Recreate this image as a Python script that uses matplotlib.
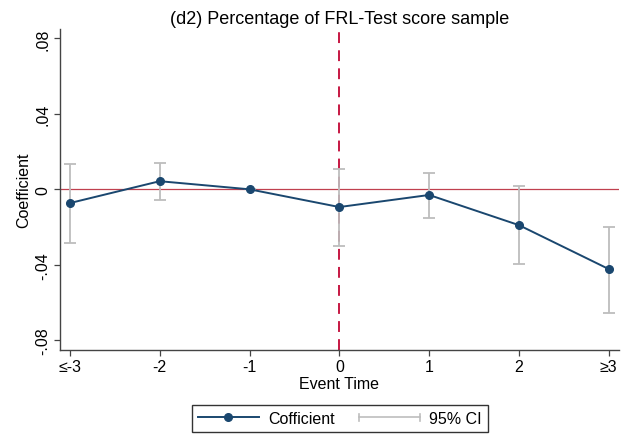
import matplotlib
matplotlib.use("Agg")
from matplotlib import pyplot as plt
from matplotlib.lines import Line2D
from matplotlib.legend_handler import HandlerBase

plt.rcParams['font.family'] = ['Liberation Sans', 'DejaVu Sans']

# event-study estimates
event_labels = ['≤-3', '-2', '-1', '0', '1', '2', '≥3']
event_time = [-3, -2, -1, 0, 1, 2, 3]
coef = [-0.0073, 0.0043, 0.0, -0.0094, -0.0030, -0.0190, -0.0423]
ci_low = [-0.0283, -0.0058, 0.0, -0.0299, -0.0150, -0.0397, -0.0654]
ci_high = [0.0134, 0.0142, 0.0, 0.0108, 0.0087, 0.0018, -0.0198]

yticks = [-0.08, -0.04, 0, 0.04, 0.08]
ytick_labels = ['-.08', '-.04', '0', '.04', '.08']

navy = '#1a476f'
gray = '#bdbdbd'


class CapLineHandler(HandlerBase):
    # horizontal range bar with end caps for the CI legend entry
    def create_artists(self, legend, orig_handle, xdescent, ydescent,
                       width, height, fontsize, trans):
        y = height / 2 - ydescent
        x0, x1 = -xdescent, width - xdescent
        h = height * 0.3
        arts = [Line2D([x0, x1], [y, y], color=gray, lw=1.2),
                Line2D([x0, x0], [y - h, y + h], color=gray, lw=1.2),
                Line2D([x1, x1], [y - h, y + h], color=gray, lw=1.2)]
        for a in arts:
            a.set_transform(trans)
        return arts


fig = plt.figure(figsize=(6.27, 4.35), dpi=100)
ax = fig.add_axes([0.0957, 0.194, 0.891, 0.737])

yerr = [[c - lo for c, lo in zip(coef, ci_low)],
        [hi - c for c, hi in zip(coef, ci_high)]]
ax.errorbar(event_time, coef, yerr=yerr, fmt='none', ecolor=gray,
            elinewidth=1.3, capsize=4, capthick=1.3, zorder=2)
ax.axhline(0, color='#c0404f', lw=0.9, zorder=1)
ax.axvline(0, color='#c10534', lw=1.3, ls=(0, (6, 4)), zorder=1)
ax.plot(event_time, coef, color=navy, lw=1.4, marker='o', ms=5.5, zorder=3)

ax.set_xlim(-3.11, 3.11)
ax.set_ylim(-0.085, 0.085)
ax.set_xticks(event_time)
ax.set_xticklabels(event_labels, fontsize=11.5)
ax.set_yticks(yticks)
ax.set_yticklabels(ytick_labels, fontsize=11.5, rotation=90, va='center')
ax.tick_params(length=4, width=0.9, color='#444444', pad=3)

for side in ['top', 'right']:
    ax.spines[side].set_visible(False)
for side in ['left', 'bottom']:
    ax.spines[side].set_color('#444444')
    ax.spines[side].set_linewidth(1.0)

ax.set_title('(d2) Percentage of FRL-Test score sample', fontsize=13, pad=4)
ax.set_xlabel('Event Time', fontsize=11.5, labelpad=1.5)
ax.set_ylabel('Coefficient', fontsize=11.5, labelpad=3)

h_coef = Line2D([], [], color=navy, lw=1.4, marker='o', ms=5.5)
h_ci = Line2D([], [], color=gray)
fig.legend([h_coef, h_ci], ['Cofficient', '95% CI'],
           handler_map={h_ci: CapLineHandler()},
           loc='lower center', bbox_to_anchor=(0.542, 0.0), ncol=2,
           fontsize=11.5, frameon=True, fancybox=False, edgecolor='black',
           handlelength=3.8, columnspacing=1.5, borderpad=0.4,
           handletextpad=0.6, borderaxespad=0.1)

fig.savefig('out.png', dpi=100)
